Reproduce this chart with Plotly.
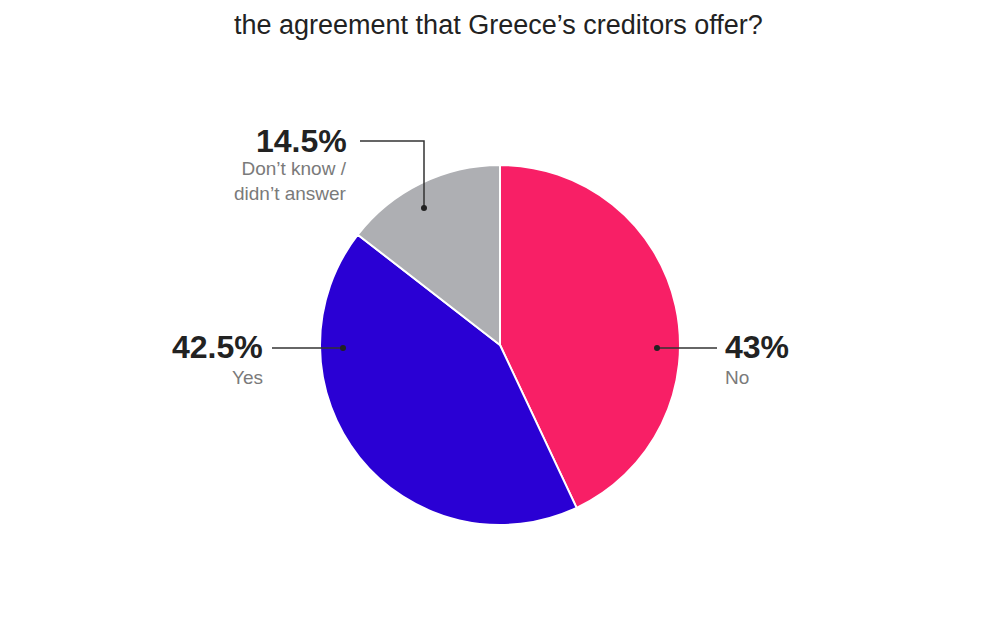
import plotly.graph_objects as go

# Data
labels = ["No", "Yes", "Don’t know /<br>didn’t answer"]
values = [43, 42.5, 14.5]
value_text = ["43%", "42.5%", "14.5%"]
colors = ["#F81F66", "#2A00D4", "#AEAFB3"]
title_text = "the agreement that Greece’s creditors offer?"

W, H = 1000, 640
OFF = 8  # page body margin offset


def px(x):
    return (x - OFF) / W


def py(y):
    return 1 - (y - OFF) / H


fig = go.Figure()
fig.add_trace(go.Pie(
    labels=labels,
    values=values,
    sort=False,
    direction="clockwise",
    rotation=0,
    marker=dict(colors=colors, line=dict(color="white", width=2)),
    textinfo="none",
    hoverinfo="label+percent",
    showlegend=False,
    domain=dict(x=[px(320), px(680)], y=[py(525), py(165)]),
))

FAM = "Liberation Sans, Arial, sans-serif"
big_font = dict(family=FAM, size=32, color="#222222")
small_font = dict(family=FAM, size=19, color="#7a7a7a")

annotations = [
    dict(x=px(498), y=1, xref="paper", yref="paper", text=title_text,
         showarrow=False, xanchor="center", yanchor="top",
         font=dict(family=FAM, size=27, color="#222222")),
    # 14.5%
    dict(x=px(349), y=py(141), xref="paper", yref="paper", text="<b>" + value_text[2] + "</b>",
         showarrow=False, xanchor="right", yanchor="middle", font=big_font),
    dict(x=px(349), y=py(181), xref="paper", yref="paper", text=labels[2],
         showarrow=False, xanchor="right", yanchor="middle", align="right", font=small_font),
    # 42.5%
    dict(x=px(265), y=py(347), xref="paper", yref="paper", text="<b>" + value_text[1] + "</b>",
         showarrow=False, xanchor="right", yanchor="middle", font=big_font),
    dict(x=px(265), y=py(377), xref="paper", yref="paper", text=labels[1],
         showarrow=False, xanchor="right", yanchor="middle", font=small_font),
    # 43%
    dict(x=px(723), y=py(347), xref="paper", yref="paper", text="<b>" + value_text[0] + "</b>",
         showarrow=False, xanchor="left", yanchor="middle", font=big_font),
    dict(x=px(723), y=py(377), xref="paper", yref="paper", text=labels[0],
         showarrow=False, xanchor="left", yanchor="middle", font=small_font),
]

line_style = dict(color="#333333", width=1.5)
shapes = [
    dict(type="path", xref="paper", yref="paper",
         path=f"M {px(360)} {py(141)} L {px(424)} {py(141)} L {px(424)} {py(208)}",
         line=line_style),
    dict(type="line", xref="paper", yref="paper", x0=px(272), y0=py(348), x1=px(343), y1=py(348), line=line_style),
    dict(type="line", xref="paper", yref="paper", x0=px(657), y0=py(348), x1=px(717), y1=py(348), line=line_style),
]
for cx, cy in [(424, 208), (343, 348), (657, 348)]:
    shapes.append(dict(type="circle", xref="paper", yref="paper",
                       x0=px(cx - 3), x1=px(cx + 3), y0=py(cy + 3), y1=py(cy - 3),
                       fillcolor="#222222", line=dict(width=0)))

fig.update_layout(
    width=W, height=H,
    margin=dict(l=0, r=0, t=0, b=0),
    paper_bgcolor="white",
    plot_bgcolor="white",
    annotations=annotations,
    shapes=shapes,
)

fig.write_html("out.html")
